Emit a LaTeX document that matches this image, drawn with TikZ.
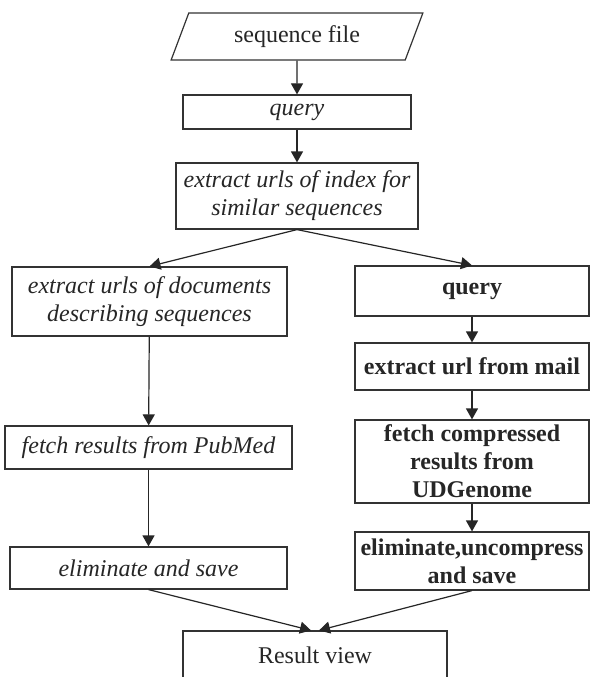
\documentclass[tikz,border=0pt]{standalone}
\usepackage{fontspec}
\setmainfont{Liberation Serif}
\usetikzlibrary{positioning,shapes.geometric,arrows.meta}

\tikzset{
  box/.style={draw=black!80, line width=1.2pt, fill=white, inner sep=0pt,
    align=center, text=black!85, font=\fontsize{24}{28}\selectfont},
  ibox/.style={box, font=\fontsize{24}{28}\selectfont\itshape},
  bbox/.style={box, font=\fontsize{24}{28}\selectfont\bfseries},
  flow/.style={line width=1.2pt, draw=black!85, -{Triangle[width=12pt,length=11pt]}}
}

\begin{document}
\begin{tikzpicture}[x=1pt,y=-1pt]
    \clip (0,0) rectangle (592,677);
    \fill[white] (0,0) rectangle (592,677);

    % top of the chart
    \node[box, trapezium, trapezium left angle=65, trapezium right angle=115,
          trapezium stretches=true, minimum width=252pt, minimum height=47pt]
          (seq) at (297,36.5) {sequence file};
    \node[ibox, minimum width=228pt, minimum height=34pt] (qry) at (297,112) {query};
    \node[ibox, minimum width=242pt, minimum height=66pt] (idx) at (297,196)
          {extract urls of index for\\similar sequences};

    % left branch (PubMed)
    \node[ibox, minimum width=275pt, minimum height=69pt] (docs) at (149.5,301.5)
          {extract urls of documents\\describing sequences};
    \node[ibox, minimum width=287pt, minimum height=43pt] (pubmed) at (148.5,447.5)
          {fetch results from PubMed};
    \node[ibox, minimum width=277pt, minimum height=42pt] (elim) at (148.5,568)
          {eliminate and save};

    % right branch (UDGenome)
    \node[bbox, minimum width=234pt, minimum height=50pt] (rqry) at (472,291) {query};
    \node[bbox, minimum width=234pt, minimum height=47pt] (mail) at (472,366.5)
          {extract url from mail};
    \node[bbox, minimum width=234pt, minimum height=83pt] (udg) at (472,461.5)
          {fetch compressed\\results from\\UDGenome};
    \node[bbox, minimum width=234pt, minimum height=58pt] (relim) at (472,561)
          {eliminate,uncompress\\and save};

    % result
    \node[box, minimum width=264pt, minimum height=49pt] (view) at (315,655.5) {Result view};

    % connectors
    \draw[flow] (seq) -- (qry);
    \draw[flow] (qry) -- (idx);
    \draw[flow] (idx.south) -- (docs.north);
    \draw[flow] (idx.south) -- (rqry.north);
    \draw[flow] (docs) -- (pubmed);
    \draw[flow] (pubmed) -- (elim);
    \draw[flow] (rqry) -- (mail);
    \draw[flow] (mail) -- (udg);
    \draw[flow] (udg) -- (relim);
    \draw[flow] (elim.south) -- ([xshift=-4pt]view.north);
    \draw[flow] (relim.south) -- ([xshift=4pt]view.north);
\end{tikzpicture}
\end{document}
